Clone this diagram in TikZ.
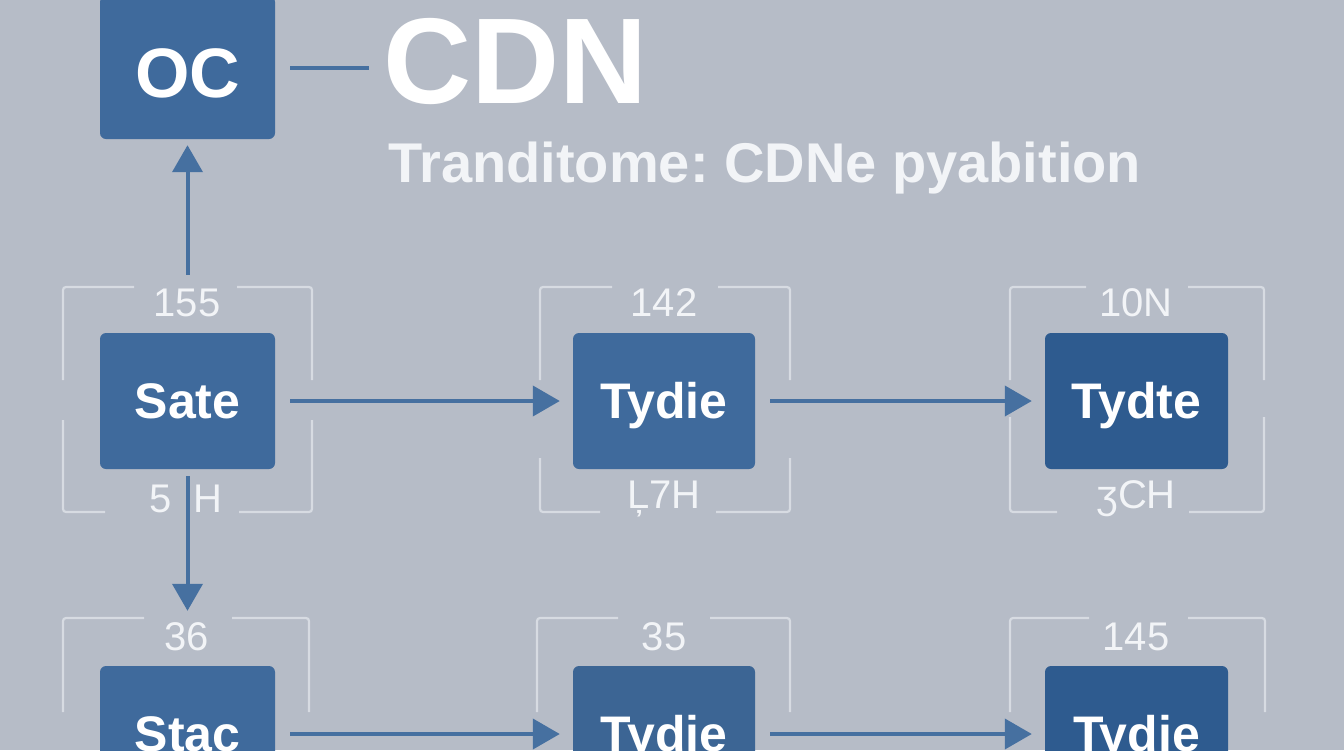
\documentclass[tikz,border=0pt]{standalone}
\usepackage{fontspec}
\setmainfont{Liberation Sans}
\usetikzlibrary{arrows.meta}
\definecolor{bgc}{HTML}{B6BCC7}
\definecolor{boxc}{HTML}{3F6A9C}
\definecolor{boxd}{HTML}{2E5B8F}
\definecolor{arrc}{HTML}{4670A0}
\definecolor{frc}{HTML}{D7DBE2}
\definecolor{txc}{HTML}{F2F4F7}
\newcommand\brframe[9]{% x1 x2 y1 y2 topgapL topgapR botgapL botgapR sidegap a/b
  \foreach \sga/\sgb in {#9}{%
  \draw[framestyle] (#1,\sga) -- (#1,#3) -- (#5,#3);
  \draw[framestyle] (#6,#3) -- (#2,#3) -- (#2,\sga);
  \draw[framestyle] (#2,\sgb) -- (#2,#4) -- (#8,#4);
  \draw[framestyle] (#7,#4) -- (#1,#4) -- (#1,\sgb);}}
\frenchspacing
\begin{document}
\begin{tikzpicture}[x=1pt,y=-1pt,
  framestyle/.style={draw=frc,line width=2.2pt,rounded corners=3pt},
  boxn/.style={rectangle,rounded corners=6pt,fill=boxc,text=white,
     font=\bfseries\fontsize{50}{50}\selectfont,minimum height=136pt,inner sep=0pt,
     text height=34pt,text depth=0pt},
  lbl/.style={text=txc,font=\fontsize{40}{40}\selectfont,inner sep=0pt},
  conn/.style={draw=arrc,line width=4pt,-{Triangle[length=27pt,width=30pt]}}]
\useasboundingbox (0,0) rectangle (1344,750);
\fill[bgc] (0,0) rectangle (1344,750);
% frames row 1
\brframe{63}{312}{287}{512}{134}{237}{105}{239}{380/420}
\brframe{540}{790}{287}{512}{612}{718}{600}{716}{380/458}
\brframe{1010}{1264}{287}{512}{1086}{1188}{1057}{1189}{380/417}
% frames row 2
\draw[framestyle] (63,712) -- (63,618) -- (144,618);
\draw[framestyle] (232,618) -- (309,618) -- (309,712);
\draw[framestyle] (537,712) -- (537,618) -- (618,618);
\draw[framestyle] (710,618) -- (790,618) -- (790,712);
\draw[framestyle] (1010,712) -- (1010,618) -- (1089,618);
\draw[framestyle] (1188,618) -- (1265,618) -- (1265,712);
% boxes
\node[boxn,minimum width=175pt,minimum height=143pt,text height=60pt,
  font=\bfseries\fontsize{70}{70}\selectfont] (oc) at (187.5,67.5) {OC};
\node[boxn,minimum width=175pt] (sate) at (187.5,401) {Sate};
\node[boxn,minimum width=182pt] (tydie1) at (664,401) {Tydie};
\node[boxn,minimum width=183pt,fill=boxd] (tydte) at (1136.5,401) {Tydte};
\node[boxn,minimum width=175pt] (stac) at (187.5,734) {Stac};
\node[boxn,minimum width=182pt,fill=boxc!95!black] (tydie2) at (664,734) {Tydie};
\node[boxn,minimum width=183pt,fill=boxd] (tydie3) at (1136.5,734) {Tydie};
% titles
\node[anchor=base west,inner sep=0pt,text=white,font=\bfseries\fontsize{122}{122}\selectfont] (cdn) at (383,103) {CDN};
\node[anchor=base west,inner sep=0pt,text=txc,font=\bfseries\fontsize{56}{56}\selectfont] (sub) at (388,182) {Tranditome: CDNe pyabition};
% labels
\node[lbl] (l1) at (187,303) {155};
\node[lbl] (l2) at (186,499) {5\hspace{0.55em}H};
\node[lbl] (l3) at (664,303) {142};
\node[lbl] (l4) at (664,499) {Ļ7H};
\node[lbl] (l5) at (1136,303) {10N};
\node[lbl] (l6) at (1136,499) {ʒCH};
\node[lbl] (l7) at (187,637) {36};
\node[lbl] (l8) at (664,637) {35};
\node[lbl] (l9) at (1136,637) {145};
% connectors
\draw[draw=arrc,line width=4pt,shorten <=15pt,shorten >=14pt] (oc.east) -- (cdn.west |- oc.east);
\draw[conn,shorten <=58pt,shorten >=6pt] (sate.north) -- (oc.south);
\draw[conn,shorten <=7pt,shorten >=55pt] (sate.south) -- (stac.north);
\draw[conn,shorten <=15pt,shorten >=13pt] (sate.east) -- (tydie1.west);
\draw[conn,shorten <=15pt,shorten >=13pt] (tydie1.east) -- (tydte.west);
\draw[conn,shorten <=15pt,shorten >=13pt] (stac.east) -- (tydie2.west);
\draw[conn,shorten <=15pt,shorten >=13pt] (tydie2.east) -- (tydie3.west);
\end{tikzpicture}
\end{document}
